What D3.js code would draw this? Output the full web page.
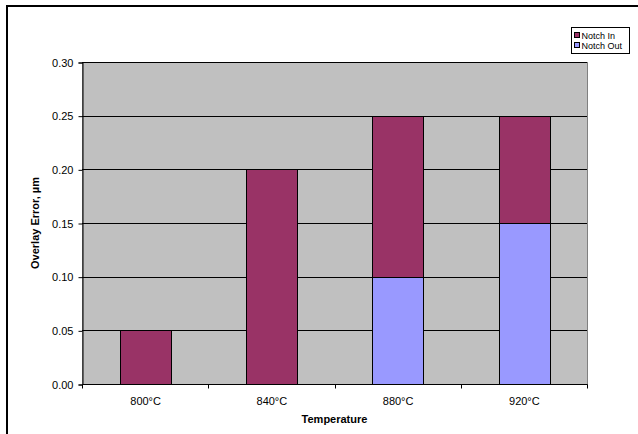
<!DOCTYPE html>
<html>
<head>
<meta charset="utf-8">
<script src="https://cdn.jsdelivr.net/npm/d3@7"></script>
<style>
  html, body { margin: 0; padding: 0; background: #fff; overflow: hidden; }
  svg { display: block; overflow: hidden; font-family: "Liberation Sans", Arial, sans-serif; }
</style>
</head>
<body>
<svg id="chart" width="638" height="434"></svg>
<script>
// Chart data
const categories = ["800°C", "840°C", "880°C", "920°C"];
const notchOut = [0, 0, 0.10, 0.15];
const notchIn = [0.05, 0.20, 0.15, 0.10];
const seriesNames = ["Notch In", "Notch Out"];
const yTicks = [0, 0.05, 0.10, 0.15, 0.20, 0.25, 0.30];

const colors = { "Notch In": "#993366", "Notch Out": "#9999FF" };

const svg = d3.select("#chart");

// Outer chart frame: only its left and top edges fall inside the view
svg.append("line").attr("x1", 7).attr("x2", 7).attr("y1", 5).attr("y2", 434)
  .attr("stroke", "#000").attr("stroke-width", 2);
svg.append("line").attr("x1", 6).attr("x2", 638).attr("y1", 6).attr("y2", 6)
  .attr("stroke", "#000").attr("stroke-width", 2);

const plot = { left: 82, right: 587, top: 62, bottom: 384 };

const x = d3.scaleBand().domain(categories).range([plot.left, plot.right]).paddingInner(0.6).paddingOuter(0.3);
const xBand = d3.scaleBand().domain(categories).range([plot.left, plot.right]);
const y = d3.scaleLinear().domain([0, 0.30]).range([plot.bottom, plot.top]);

// Plot area
svg.append("rect")
  .attr("x", plot.left + 0.5).attr("y", plot.top + 0.5)
  .attr("width", plot.right - plot.left).attr("height", plot.bottom - plot.top)
  .attr("fill", "#C0C0C0").attr("stroke", "#808080").attr("stroke-width", 1);

// Gridlines
svg.append("g").selectAll("line").data(yTicks.filter(d => d > 0)).join("line")
  .attr("x1", plot.left).attr("x2", plot.right)
  .attr("y1", d => Math.round(y(d)) + 0.5).attr("y2", d => Math.round(y(d)) + 0.5)
  .attr("stroke", "#000").attr("stroke-width", 1);

// Stacked bars
const rows = categories.map((c, i) => ({ cat: c, "Notch Out": notchOut[i], "Notch In": notchIn[i] }));
const stack = d3.stack().keys(["Notch Out", "Notch In"]);
const layers = stack(rows);

svg.append("g").selectAll("g").data(layers).join("g")
  .attr("fill", d => colors[d.key])
  .selectAll("rect").data(d => d.filter(p => p[1] - p[0] > 0)).join("rect")
  .attr("x", d => Math.round(x(d.data.cat)) + 0.5)
  .attr("width", Math.round(x.bandwidth()))
  .attr("y", d => Math.round(y(d[1])) + 0.5)
  .attr("height", d => Math.round(y(d[0])) - Math.round(y(d[1])))
  .attr("stroke", "#000").attr("stroke-width", 1);

// Y axis
const yAxis = d3.axisLeft(y).tickValues(yTicks).tickFormat(d3.format(".2f")).tickSize(4).tickPadding(5);
const gy = svg.append("g").attr("transform", `translate(${plot.left + 0.5},0.5)`).call(yAxis);
gy.select(".domain").attr("stroke", "#000");
gy.selectAll(".tick line").attr("stroke", "#000");
gy.selectAll("text").attr("font-size", 11).attr("fill", "#000").attr("font-family", "Liberation Sans, Arial, sans-serif");

// X axis: ticks at category boundaries
const gx = svg.append("g").attr("transform", `translate(0.5,${plot.bottom + 0.5})`);
gx.append("line").attr("x1", plot.left).attr("x2", plot.right).attr("stroke", "#000");
const boundaries = categories.map(c => xBand(c)).concat([plot.right]);
gx.selectAll("line.tk").data(boundaries).join("line").attr("class", "tk")
  .attr("x1", d => Math.round(d)).attr("x2", d => Math.round(d))
  .attr("y1", 0).attr("y2", 4).attr("stroke", "#000");
gx.selectAll("text").data(categories).join("text")
  .attr("x", d => xBand(d) + xBand.bandwidth() / 2)
  .attr("y", 20)
  .attr("text-anchor", "middle").attr("font-size", 11).attr("fill", "#000")
  .text(d => d);

// Axis titles
svg.append("text").attr("x", (plot.left + plot.right) / 2).attr("y", 423)
  .attr("text-anchor", "middle").attr("font-size", 11).attr("font-weight", "bold")
  .text("Temperature");
svg.append("text")
  .attr("transform", `translate(39,${(plot.top + plot.bottom) / 2}) rotate(-90)`)
  .attr("text-anchor", "middle").attr("font-size", 11).attr("font-weight", "bold")
  .text("Overlay Error, µm");

// Legend
const lg = svg.append("g").attr("transform", "translate(571.5,27.5)");
lg.append("rect").attr("width", 58).attr("height", 26).attr("fill", "#fff").attr("stroke", "#000");
const items = lg.selectAll("g").data(seriesNames).join("g")
  .attr("transform", (d, i) => `translate(3,${4 + i * 10})`);
items.append("rect").attr("width", 5).attr("height", 5).attr("y", 1)
  .attr("fill", d => colors[d]).attr("stroke", "#000").attr("stroke-width", 1);
items.append("text").attr("x", 7).attr("y", 7).attr("font-size", 9).text(d => d);
</script>
</body>
</html>
